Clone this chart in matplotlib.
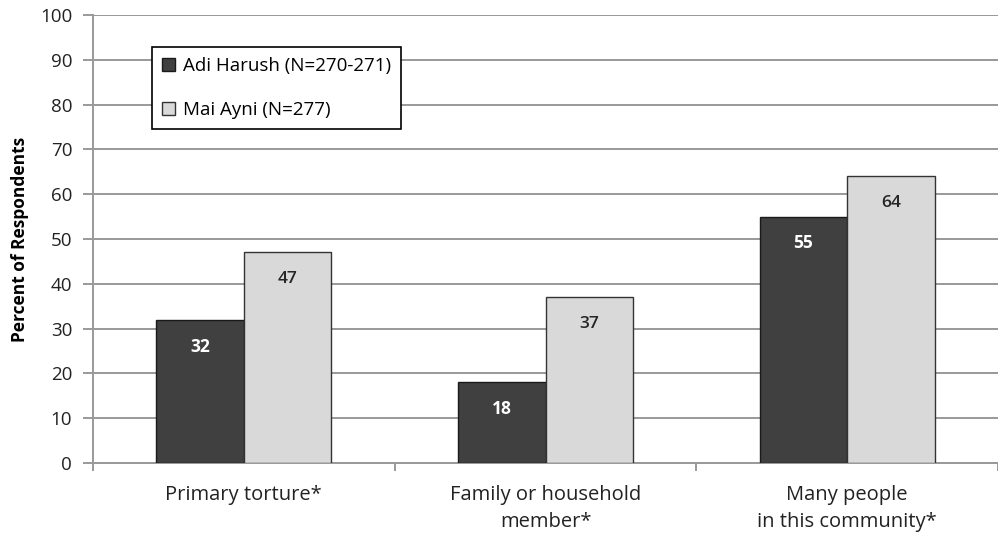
import matplotlib
matplotlib.use("Agg")
import matplotlib.pyplot as plt
import numpy as np
from matplotlib.patches import Patch

categories = ["Primary torture*", "Family or household\nmember*", "Many people\nin this community*"]
series_names = ["Adi Harush (N=270-271)", "Mai Ayni (N=277)"]
adi_harush = [32, 18, 55]
mai_ayni = [47, 37, 64]
yticks = [0, 10, 20, 30, 40, 50, 60, 70, 80, 90, 100]

plt.rcParams['font.family'] = ['Open Sans', 'DejaVu Sans']

fig = plt.figure(figsize=(9.98, 5.40), dpi=100)
ax = fig.add_axes([93/998, 77/540, 1 - 93/998, 448/540])

x = np.arange(len(categories))
w = 0.29
dark = "#404040"
light = "#d9d9d9"
b1 = ax.bar(x - w/2, adi_harush, w, color=dark, edgecolor="#1a1a1a", linewidth=1.0, zorder=3)
b2 = ax.bar(x + w/2, mai_ayni, w, color=light, edgecolor="#333333", linewidth=1.0, zorder=3)

for rect, v in zip(b1, adi_harush):
    ax.text(rect.get_x() + rect.get_width()/2, v - 6, str(v), ha="center", va="center",
            color="white", fontsize=12.5, fontweight="bold", zorder=4)
for rect, v in zip(b2, mai_ayni):
    ax.text(rect.get_x() + rect.get_width()/2, v - 6, str(v), ha="center", va="center",
            color="#262626", fontsize=12.5, fontweight="semibold", zorder=4)

ax.set_xlim(-0.5, 2.5)
ax.set_ylim(0, 100)
ax.set_yticks(yticks)
ax.set_yticklabels([str(t) for t in yticks], fontsize=13.5, color="#222222")
ax.yaxis.grid(True, color="#999999", linewidth=1.4, zorder=0)
ax.set_axisbelow(True)

ax.set_xticks([-0.5, 0.5, 1.5, 2.5])
ax.set_xticklabels([])
ax.set_xticks(x, minor=True)
ax.set_xticklabels(categories, minor=True, fontsize=14.5, color="#222222", linespacing=1.45)
ax.tick_params(axis="x", which="minor", length=0, pad=16)
ax.tick_params(axis="x", which="major", length=6, width=1.4, color="#999999")
ax.tick_params(axis="y", length=7, width=1.4, color="#999999", pad=8)

for s in ["top", "right"]:
    ax.spines[s].set_visible(False)
for s in ["left", "bottom"]:
    ax.spines[s].set_color("#999999")
    ax.spines[s].set_linewidth(1.4)

ax.set_ylabel("Percent of Respondents", fontsize=12.5, fontweight="bold", labelpad=8)

handles = [Patch(facecolor=dark, edgecolor="#1a1a1a", linewidth=1.0),
           Patch(facecolor=light, edgecolor="#333333", linewidth=1.0)]
leg = ax.legend(handles, series_names, loc="upper left",
                bbox_to_anchor=((152-93)/905, (463-47)/448), fontsize=13.5,
                frameon=True, fancybox=False, edgecolor="black", framealpha=1,
                handlelength=0.7, handleheight=0.7, handletextpad=0.4,
                labelspacing=1.35, borderpad=0.55, borderaxespad=0)
leg.get_frame().set_linewidth(1.2)

fig.savefig("out.png", dpi=100)
